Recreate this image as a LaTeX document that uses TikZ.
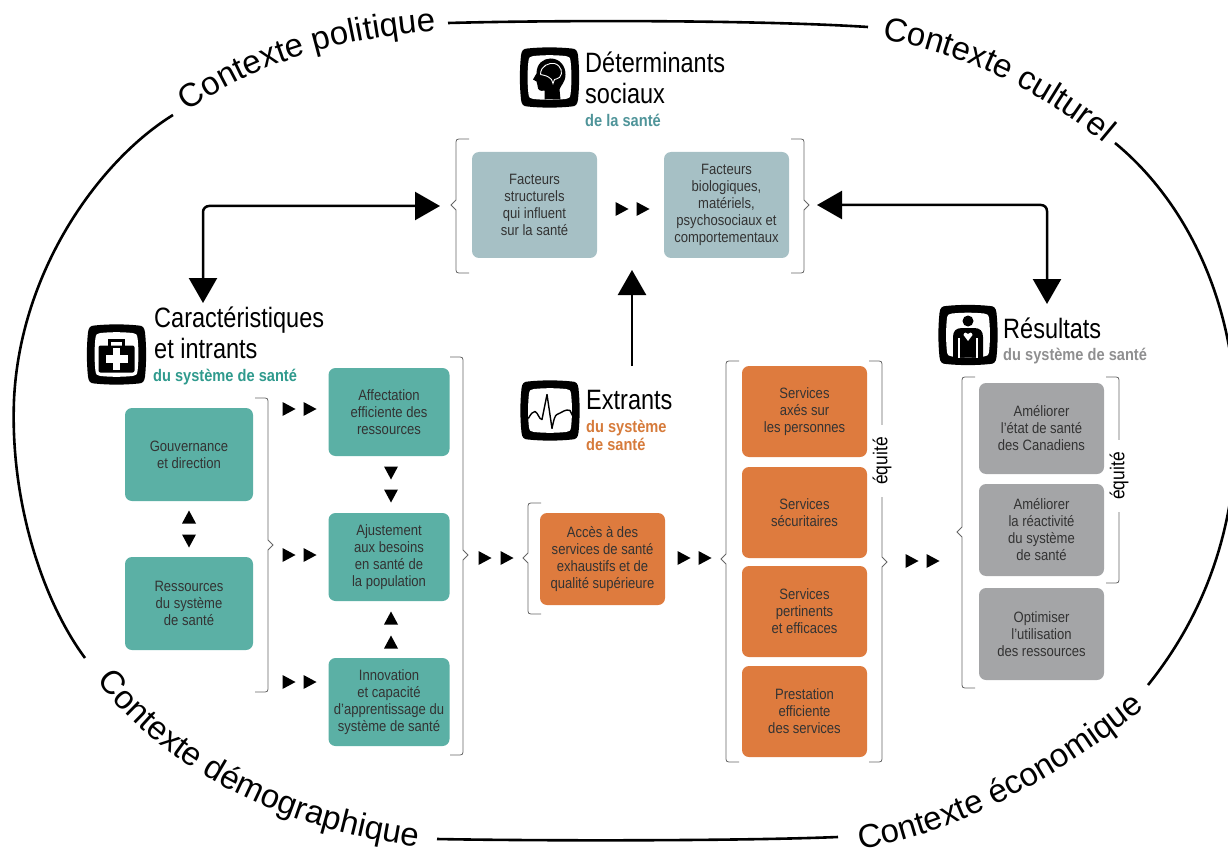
\documentclass[tikz,border=0pt]{standalone}
\usepackage{fontspec}
\setmainfont{Liberation Sans}
\newfontfamily\narrowfont[FakeStretch=.87]{Liberation Sans}
\newfontfamily\titlefont[FakeStretch=.84]{Liberation Sans}
\usetikzlibrary{arrows.meta,decorations.text}
\definecolor{tealbox}{HTML}{5BB0A5}
\definecolor{tealtitle}{HTML}{2F9A8D}
\definecolor{bluebox}{HTML}{A6C0C5}
\definecolor{bluetitle}{HTML}{4F9499}
\definecolor{orangebox}{HTML}{DE7B3E}
\definecolor{orangetitle}{HTML}{D67B3B}
\definecolor{greybox}{HTML}{A4A5A7}
\definecolor{greytitle}{HTML}{8F8F90}
\newcommand{\ringfont}{\fontsize{33}{36}\selectfont}
\tikzset{box/.style={rounded corners=7pt, inner sep=0pt, align=center, text=black!80, font=\narrowfont\fontsize{15}{17}\selectfont},
title/.style={anchor=base west, inner sep=0pt, align=left, font=\titlefont\fontsize{28}{31}\selectfont},
subtitle/.style={anchor=base west, inner sep=0pt, align=left, font=\narrowfont\bfseries\fontsize{16.8}{18}\selectfont},
bracket/.style={draw=black!60, line width=.8pt},
bigarrow/.style={line width=2.5pt, rounded corners=6pt, {Triangle[length=25pt,width=28pt]}-{Triangle[length=25pt,width=28pt]}},
ring/.style={line width=2.6pt},
equite/.style={rotate=90, fill=white, inner xsep=12pt, inner ysep=1pt, font=\narrowfont\fontsize{20}{20}\selectfont}}
\newcommand{\squircle}{(-22,-29) .. controls (-8,-30.5) and (8,-30.5) .. (22,-29) .. controls (26,-29) and (28,-27) .. (28.5,-22) .. controls (30,-8) and (30,8) .. (28.5,22) .. controls (28,27) and (26,29) .. (22,29) .. controls (8,30.5) and (-8,30.5) .. (-22,29) .. controls (-26,29) and (-28,27) .. (-28.5,22) .. controls (-30,8) and (-30,-8) .. (-28.5,-22) .. controls (-28,-27) and (-26,-29) .. (-22,-29) -- cycle}
\newcommand{\iconframe}{\fill \squircle; \begin{scope}[scale=.74] \fill[white] \squircle; \end{scope}}
\newcommand{\leftbrack}[4]{\draw[bracket] ({#1+13},#2) -- ({#1+6},#2) .. controls (#1,#2) .. (#1,{#2+6}) -- (#1,{#3-5}) -- ({#1-5},#3) -- (#1,{#3+5}) -- (#1,{#4-6}) .. controls (#1,#4) .. ({#1+6},#4) -- ({#1+13},#4);}
\newcommand{\rightbrack}[4]{\draw[bracket] ({#1-13},#2) -- ({#1-6},#2) .. controls (#1,#2) .. (#1,{#2+6}) -- (#1,{#3-5}) -- ({#1+5},#3) -- (#1,{#3+5}) -- (#1,{#4-6}) .. controls (#1,#4) .. ({#1-6},#4) -- ({#1-13},#4);}
\begin{document}
\begin{tikzpicture}[x=1pt,y=-1pt]
        \useasboundingbox (0,0) rectangle (1228,850);
        % outer ring
        \draw[ring] (448,23) .. controls (560,20) and (760,20) .. (868,27);
        \draw[ring] (437,839) .. controls (540,841) and (740,841) .. (838,837);
        \draw[ring] (173,115) .. controls (100,160) and (20,270) .. (14,400) .. controls (10,500) and (42,600) .. (85,658);
        \draw[ring] (1115,143) .. controls (1182,198) and (1240,300) .. (1236,440) .. controls (1233,540) and (1200,620) .. (1148,685);
        \path[decorate, decoration={text along path, text align=center, text={|\ringfont|Contexte politique}}] (188,112) .. controls (250,65) and (340,38) .. (436,31);
        \path[decorate, decoration={text along path, text align=center, text={|\ringfont|Contexte culturel}}] (884,40) .. controls (960,52) and (1040,90) .. (1102,142);
        \path[decorate, decoration={text along path, text align=center, text={|\ringfont|Contexte démographique}}] (90,672) .. controls (165,775) and (290,832) .. (428,848);
        \path[decorate, decoration={text along path, text align=center, text={|\ringfont|Contexte économique}}] (856,850) .. controls (960,835) and (1070,770) .. (1148,705);

        % boxes
        \node[box, fill=bluebox, minimum width=125pt, minimum height=106pt] (facteursA) at (534.5,205) {Facteurs\\structurels\\qui influent\\sur la santé};
        \node[box, fill=bluebox, minimum width=125pt, minimum height=106pt] (facteursB) at (726.5,205) {Facteurs\\biologiques,\\matériels,\\psychosociaux et\\comportementaux};
        \node[box, fill=tealbox, minimum width=128pt, minimum height=93pt] (gouvernance) at (189,454.5) {Gouvernance\\et direction};
        \node[box, fill=tealbox, minimum width=128pt, minimum height=93pt] (ressources) at (189,603.5) {Ressources\\du système\\de santé};
        \node[box, fill=tealbox, minimum width=121pt, minimum height=88pt] (affectation) at (389,412) {Affectation\\efficiente des\\ressources};
        \node[box, fill=tealbox, minimum width=121pt, minimum height=88pt] (ajustement) at (389,557) {Ajustement\\aux besoins\\en santé de\\la population};
        \node[box, fill=tealbox, minimum width=121pt, minimum height=88pt] (innovation) at (389,702) {Innovation\\et capacité\\d’apprentissage du\\système de santé};
        \node[box, fill=orangebox, minimum width=125pt, minimum height=92pt] (acces) at (602.5,559) {Accès à des\\services de santé\\exhaustifs et de\\qualité supérieure};
        \node[box, fill=orangebox, minimum width=125pt, minimum height=91pt] (axes) at (804.5,411.5) {Services\\axés sur\\les personnes};
        \node[box, fill=orangebox, minimum width=125pt, minimum height=91pt] (securitaires) at (804.5,512.5) {Services\\sécuritaires};
        \node[box, fill=orangebox, minimum width=125pt, minimum height=91pt] (pertinents) at (804.5,611.5) {Services\\pertinents\\et efficaces};
        \node[box, fill=orangebox, minimum width=125pt, minimum height=91pt] (prestation) at (804.5,711.5) {Prestation\\efficiente\\des services};
        \node[box, fill=greybox, minimum width=125pt, minimum height=91pt] (etat) at (1041.5,428.5) {Améliorer\\l’état de santé\\des Canadiens};
        \node[box, fill=greybox, minimum width=125pt, minimum height=92pt] (reactivite) at (1041.5,530) {Améliorer\\la réactivité\\du système\\de santé};
        \node[box, fill=greybox, minimum width=125pt, minimum height=92pt] (utilisation) at (1041.5,634) {Optimiser\\l’utilisation\\des ressources};

        % brackets
        \leftbrack{456}{139}{205}{273}
        \rightbrack{804}{139}{205}{273}
        \rightbrack{268}{398}{545}{692}
        \rightbrack{463}{357}{555}{755}
        \leftbrack{528}{503}{558}{614}
        \leftbrack{726}{361}{559}{762}
        \rightbrack{882}{361}{562}{762}
        \leftbrack{962}{377}{532}{688}
        \rightbrack{1119}{377}{480}{583}
        \node[equite] (equiteA) at (882,461) {équité};
        \node[equite] (equiteB) at (1119,476) {équité};

        % small heads
        \foreach \x/\y/\a in {622/209/0,643/209/0,289/409/0,310/409/0,289/555/0,310/555/0,289/682/0,310/682/0,485/558/0,507/558/0,684/558/0,705/558/0,912/561/0,933/561/0,391/473/-90,391/496/-90,391/618/90,391/642/90,189/517/90,189/541/-90}
        {
            \begin{scope}[shift={(\x,\y)},rotate=\a]
                \fill (-6.5,-7) -- (-6.5,7) -- (6.5,0) -- cycle;
            \end{scope}
        }

        % titles
        \node[title] (determinants) at (585,104) {Déterminants\\sociaux};
        \node[subtitle, text=bluetitle] (determinantsSub) at (585,127) {de la santé};
        \node[title] (caracteristiques) at (154,358) {Caractéristiques\\et intrants};
        \node[subtitle, text=tealtitle] (caracteristiquesSub) at (153,381) {du système de santé};
        \node[title] (extrants) at (586,409) {Extrants};
        \node[subtitle, text=orangetitle] (extrantsSub) at (586,450) {du système\\de santé};
        \node[title] (resultats) at (1003,338) {Résultats};
        \node[subtitle, text=greytitle] (resultatsSub) at (1003,360) {du système de santé};

        % icons
        \begin{scope}[shift={(549.5,77.5)}]
            \iconframe
            \fill (-5,22) -- (-5,13) .. controls (-9,14) and (-12,13) .. (-12,8) -- (-13,4) -- (-16.5,2) -- (-13,-4) .. controls (-13,-14) and (-6,-19) .. (1,-19) .. controls (10,-19) and (16,-12) .. (16,-3) .. controls (16,5) and (11,8) .. (10,12) -- (11,22) -- cycle;
            \draw[white, line width=.9pt] (-9,-3) .. controls (-9,-12) and (0,-15) .. (5,-14) .. controls (12,-12) and (14,-4) .. (10,0) .. controls (8,2) and (6,1) .. (5,2) -- (3.5,6) -- (2,2) .. controls (-2,-2) and (-5,-2) .. (-9,-3);
        \end{scope}
        \begin{scope}[shift={(116.5,354.5)}]
            \iconframe
            \draw[line width=2.4pt] (-7,-9) -- (-7,-14) -- (7,-14) -- (7,-9);
            \fill[rounded corners=2pt] (-18,-9) rectangle (18,18);
            \fill[white] (-3.8,-6.5) rectangle (3.8,15.5);
            \fill[white] (-11,0.7) rectangle (11,8.3);
        \end{scope}
        \begin{scope}[shift={(550,410.5)}]
            \iconframe
            \draw[line width=1.4pt, line join=round] (-21.7,8) .. controls (-19,3) and (-17,1) .. (-15,1) .. controls (-12,2) and (-11,9) .. (-8,9) -- (-3,-16) -- (2,18) .. controls (4,8) and (5,5) .. (7,4) .. controls (12,2) and (16,-2) .. (20,0) -- (23,6);
        \end{scope}
        \begin{scope}[shift={(968,335)}]
            \iconframe
            \fill (0,-14) circle (5.5);
            \fill (-6,-7) -- (6,-7) .. controls (12,-7) and (15,-4) .. (15,2) -- (15,22) -- (-15,22) -- (-15,2) .. controls (-15,-4) and (-12,-7) .. (-6,-7) -- cycle;
            \draw[white, line width=1.2pt] (-9,3) -- (-9,23) (9,3) -- (9,23);
            \fill[white] (0,6) -- (-4.5,0) .. controls (-4,-3) and (-1,-3) .. (0,-1) .. controls (1,-3) and (4,-3) .. (4.5,0) -- cycle;
        \end{scope}

        % main arrows
        \coordinate (leftTop) at (203,303);
        \coordinate (leftEnd) at (440,206);
        \coordinate (rightStart) at (817,205);
        \coordinate (rightEnd) at (1047,304);
        \coordinate (upStart) at (632,366);
        \coordinate (upEnd) at (632,270);
        \draw[bigarrow] (leftTop) |- (leftEnd);
        \draw[bigarrow] (rightStart) -| (rightEnd);
        \draw[line width=2.5pt, -{Triangle[length=25pt,width=28pt]}] (upStart) -- (upEnd);
\end{tikzpicture}
\end{document}
